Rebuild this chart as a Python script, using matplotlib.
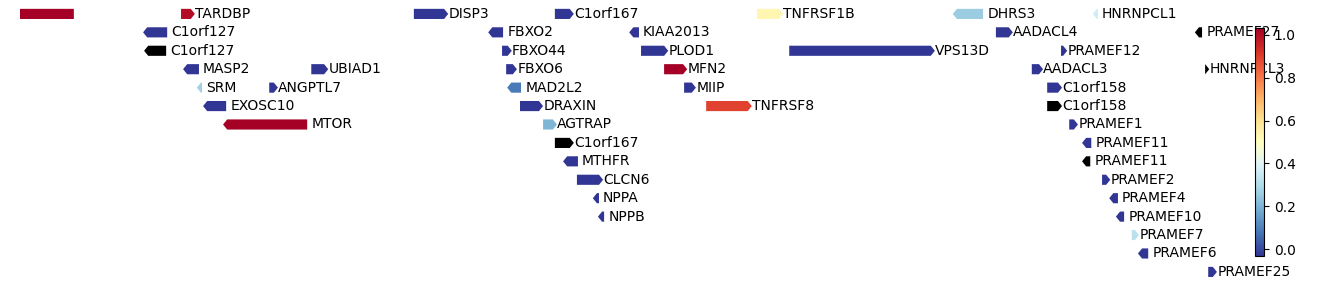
import matplotlib
matplotlib.use("Agg")
import matplotlib.pyplot as plt
from matplotlib.patches import Polygon
from matplotlib.colors import Normalize
import numpy as np

# gene track data (positions in kb)
names = ["", "TARDBP", "DISP3", "C1orf167", "TNFRSF1B", "DHRS3", "HNRNPCL1",
         "C1orf127", "FBXO2", "KIAA2013", "AADACL4", "PRAMEF27",
         "C1orf127", "FBXO44", "PLOD1", "VPS13D", "PRAMEF12",
         "MASP2", "UBIAD1", "FBXO6", "MFN2", "AADACL3", "HNRNPCL3",
         "SRM", "ANGPTL7", "MAD2L2", "MIIP", "C1orf158",
         "EXOSC10", "DRAXIN", "TNFRSF8", "C1orf158",
         "MTOR", "AGTRAP", "PRAMEF1",
         "C1orf167", "PRAMEF11",
         "MTHFR", "PRAMEF11",
         "CLCN6", "PRAMEF2",
         "NPPA", "PRAMEF4",
         "NPPB", "PRAMEF10",
         "PRAMEF7", "PRAMEF6", "PRAMEF25"]
starts = [10640, 11012, 11466, 11741, 12135, 12517, 12790,
          10938, 11611, 11886, 12601, 12989,
          10940, 11638, 11909, 12198, 12728,
          11016, 11266, 11646, 11954, 12671, 13009,
          11043, 11184, 11648, 11993, 12701,
          11055, 11673, 12036, 12701,
          11094, 11718, 12744,
          11741, 12769,
          11757, 12769,
          11784, 12808,
          11815, 12822,
          11825, 12835,
          12866, 12878, 13015]
ends = [10803, 11039, 11533, 11778, 12186, 12576, 12800,
        10985, 11640, 11905, 12634, 13003,
        10983, 11657, 11962, 12482, 12740,
        11047, 11299, 11667, 11999, 12693, 13017,
        11053, 11201, 11675, 12016, 12730,
        11100, 11718, 12125, 12730,
        11258, 11745, 12761,
        11778, 12787,
        11786, 12785,
        11835, 12824,
        11827, 12839,
        11837, 12851,
        12880, 12898, 13032]
strands = ["-", "+", "+", "+", "+", "-", "-",
           "-", "-", "-", "+", "-",
           "-", "+", "+", "+", "+",
           "-", "+", "+", "+", "+", "+",
           "-", "+", "-", "+", "+",
           "-", "+", "+", "+",
           "-", "+", "+",
           "+", "-",
           "-", "-",
           "+", "+",
           "-", "-",
           "-", "-",
           "+", "-", "+"]
rows = [0, 0, 0, 0, 0, 0, 0,
        1, 1, 1, 1, 1,
        2, 2, 2, 2, 2,
        3, 3, 3, 3, 3, 3,
        4, 4, 4, 4, 4,
        5, 5, 5, 5,
        6, 6, 6,
        7, 7,
        8, 8,
        9, 9,
        10, 10,
        11, 11,
        12, 13, 14]
nan = np.nan
values = [1.0, 0.97, 0, 0, 0.53, 0.27, 0.37,
          0, 0, 0, 0, nan,
          nan, 0, 0, 0, 0,
          0, 0, 0, 1.0, 0, nan,
          0.28, 0, 0.11, 0, 0,
          0, 0, 0.87, nan,
          1.0, 0.22, 0,
          nan, 0,
          0, nan,
          0, 0,
          0, 0,
          0, 0,
          0.33, 0, 0]

cmap = plt.get_cmap("RdYlBu_r")
norm = Normalize(vmin=0, vmax=1)

fig = plt.figure(figsize=(13.38, 2.85), dpi=100)
ax = fig.add_axes([20 / 1338, 0, 1220 / 1338, 1])

h = 0.55   # bar height in row units
hl = 8.0   # arrow head length in kb

for name, s, e, st, r, v in zip(names, starts, ends, strands, rows, values):
    col = "black" if np.isnan(v) else cmap(norm(v))
    head = min(hl, e - s)
    if st == "+":
        pts = [(s, r - h / 2), (e - head, r - h / 2), (e, r),
               (e - head, r + h / 2), (s, r + h / 2)]
        tx = e + 0.5
    else:
        pts = [(e, r - h / 2), (s + head, r - h / 2), (s, r),
               (s + head, r + h / 2), (e, r + h / 2)]
        tx = e + 8
    ax.add_patch(Polygon(pts, closed=True, facecolor=col, edgecolor="none"))
    if name:
        ax.text(tx, r, name, fontsize=10, va="center", ha="left", clip_on=False)

ax.set_xlim(10698, 13077)
ax.set_ylim(14.71, -0.755)
ax.axis("off")

cax = fig.add_axes([1255 / 1338, 1 - 256 / 285, 9 / 1338, 228 / 285])
sm = plt.cm.ScalarMappable(cmap=cmap, norm=Normalize(vmin=-0.031, vmax=1.031))
cb = fig.colorbar(sm, cax=cax)
cb.set_ticks([0.0, 0.2, 0.4, 0.6, 0.8, 1.0])
cb.ax.tick_params(labelsize=10)

fig.savefig("out.png", dpi=100)
